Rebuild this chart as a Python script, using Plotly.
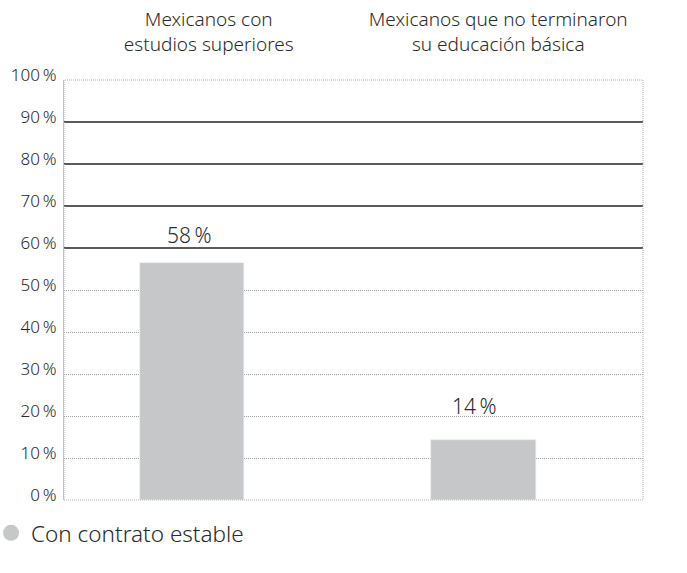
import plotly.graph_objects as go

categories = ["Mexicanos con<br>estudios superiores", "Mexicanos que no terminaron<br>su educación básica"]
values = [56.5, 14.3]
labels = ["58\u2009%", "14\u2009%"]
series_name = "Con contrato estable"
tick_vals = [0, 10, 20, 30, 40, 50, 60, 70, 80, 90, 100]
tick_text = [f"{v}\u2009%" for v in tick_vals]
strong_grid = [60, 70, 80, 90]

FONT = "Noto Sans"
TXT = "#2a2a2a"
BAR = "#c6c7c8"

fig = go.Figure()
fig.add_trace(go.Bar(
    x=categories, y=values, marker_color=BAR, width=0.36, offset=[-0.239, -0.231],
    showlegend=False, hoverinfo="skip",
))
fig.add_trace(go.Scatter(
    x=[None], y=[None], mode="markers", name=series_name,
    marker=dict(symbol="circle", size=19, color=BAR),
))
fig.add_trace(go.Scatter(x=categories, y=[None, None], yaxis="y2", showlegend=False, mode="markers"))

for c, v, t, xs in zip(categories, values, labels, [-19, -24]):
    fig.add_annotation(x=c, y=v, text=t, showarrow=False, xshift=xs, yshift=12 if v > 30 else 18,
                       yanchor="bottom", font=dict(size=21, color=TXT, family=FONT, weight=300))

fig.add_shape(type="rect", xref="paper", yref="paper", x0=0, x1=1, y0=0, y1=1,
              line=dict(color="#b0b0b0", width=1, dash="1px,1px"), layer="above")

fig.update_layout(
    width=687, height=573,
    margin=dict(l=64, r=44, t=80, b=73, autoexpand=False),
    paper_bgcolor="white", plot_bgcolor="white",
    font=dict(family=FONT, color=TXT, weight=300),
    bargap=0,
    xaxis=dict(side="top", tickfont=dict(size=19, color=TXT, weight=300), showgrid=False,
               ticks="", ticklabelstandoff=24, range=[-0.5, 1.5], fixedrange=True, automargin=False),
    yaxis=dict(range=[0, 100], tickvals=tick_vals, ticktext=tick_text,
               tickfont=dict(size=17, color=TXT, weight=300), showgrid=True, gridcolor="#a0a0a0",
               griddash="1px,1px", gridwidth=1, zeroline=False, ticks="", ticklabelstandoff=3,
               ticklabelshift=-5, showline=True, linecolor="#c8c8c8", linewidth=1, automargin=False),
    yaxis2=dict(range=[0, 100], overlaying="y", side="left", tickvals=strong_grid,
                showticklabels=False, showgrid=True, gridcolor="#5a5a5a", gridwidth=1.5,
                zeroline=False, ticks="", automargin=False),
    legend=dict(orientation="h", x=-0.126, xanchor="left", y=-0.079, yanchor="middle",
                font=dict(size=22.5, color=TXT, family=FONT, weight=300), itemwidth=30),
)

fig.write_html("out.html")
